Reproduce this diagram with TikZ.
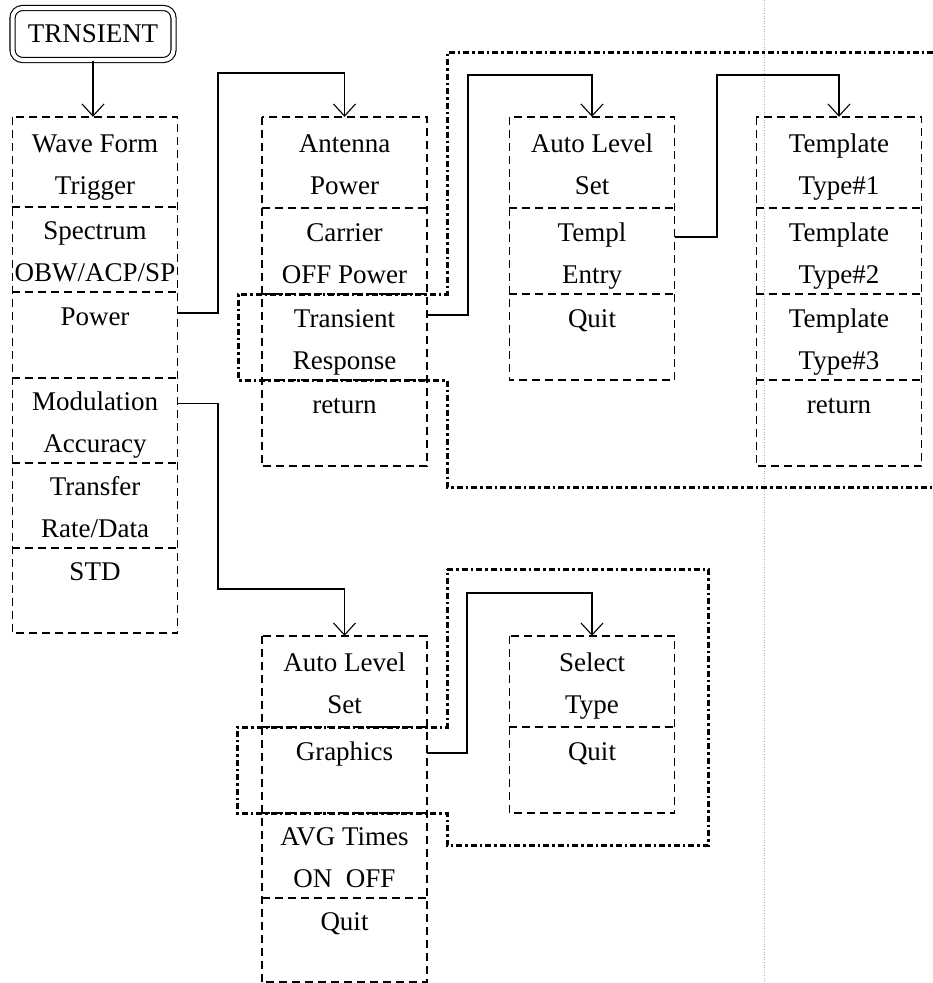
\documentclass[tikz,border=0pt]{standalone}
\usepackage{fontspec}
\setmainfont{Liberation Serif}
\usetikzlibrary{arrows.meta}
\newcommand{\mstrut}{\rule[-10pt]{0pt}{42pt}}

\begin{document}
\begin{tikzpicture}[x=1pt,y=-1pt,font=\fontsize{27pt}{42pt}\selectfont,every node/.style={align=center},
  rootbox/.style={draw,double,double distance=4pt,line width=1.1pt,rounded corners=10pt,minimum width=161pt,minimum height=52pt,inner sep=0pt},
  item/.style={minimum width=165pt,inner sep=0pt},
  menubox/.style={line width=1.5pt,dash pattern=on 8pt off 5pt},
  link/.style={line width=1.5pt,-{Straight Barb[length=12pt,width=22pt,line width=1.1pt]}},
  subframe/.style={line width=3pt,dash pattern=on 6pt off 3pt on 2.5pt off 3pt}]
  \useasboundingbox (0,0) rectangle (933,983);
  \draw[black!30,dotted,line width=0.6pt] (764,0) -- (764,983);
  % main menu
  \node[rootbox] (root) at (93,34) {TRNSIENT};
  \node[item,minimum height=90pt] (wave) at (95,162) {\mstrut Wave Form\\\mstrut Trigger};
  \node[item,minimum height=85pt] (spec) at (95,249.5) {\mstrut Spectrum\\\mstrut OBW/ACP/SP};
  \node[item,minimum height=86pt] (power) at (95,335) {\mstrut Power\\\mstrut};
  \node[item,minimum height=85pt] (modul) at (95,420.5) {\mstrut Modulation\\\mstrut Accuracy};
  \node[item,minimum height=85pt] (transf) at (95,505.5) {\mstrut Transfer\\\mstrut Rate/Data};
  \node[item,minimum height=85pt] (std) at (95,590.5) {\mstrut STD\\\mstrut};
  % power menu
  \node[item,minimum height=91pt] (antenna) at (344.5,162.5) {\mstrut Antenna\\\mstrut Power};
  \node[item,minimum height=86pt] (carrier) at (344.5,251) {\mstrut Carrier\\\mstrut OFF Power};
  \node[item,minimum height=86pt] (transient) at (344.5,337) {\mstrut Transient\\\mstrut Response};
  \node[item,minimum height=86pt] (retB) at (344.5,423) {\mstrut return\\\mstrut};
  % transient menu
  \node[item,minimum height=91pt] (autoA) at (592,162.5) {\mstrut Auto Level\\\mstrut Set};
  \node[item,minimum height=86pt] (templ) at (592,251) {\mstrut Templ\\\mstrut Entry};
  \node[item,minimum height=86pt] (quitC) at (592,337) {\mstrut Quit\\\mstrut};
  % template menu
  \node[item,minimum height=91pt] (tmpl1) at (839,162.5) {\mstrut Template\\\mstrut Type\#1};
  \node[item,minimum height=86pt] (tmpl2) at (839,251) {\mstrut Template\\\mstrut Type\#2};
  \node[item,minimum height=86pt] (tmpl3) at (839,337) {\mstrut Template\\\mstrut Type\#3};
  \node[item,minimum height=86pt] (retD) at (839,423) {\mstrut return\\\mstrut};
  % modulation menu
  \node[item,minimum height=91pt] (autoB) at (344.5,681.5) {\mstrut Auto Level\\\mstrut Set};
  \node[item,minimum height=86pt] (graph) at (344.5,770) {\mstrut Graphics\\\mstrut};
  \node[item,minimum height=85pt] (avg) at (344.5,855.5) {\mstrut AVG Times\\\mstrut ON~ OFF};
  \node[item,minimum height=84pt] (quitE) at (344.5,940) {\mstrut Quit\\\mstrut};
  % graphics menu
  \node[item,minimum height=91pt] (select) at (592,681.5) {\mstrut Select\\\mstrut Type};
  \node[item,minimum height=86pt] (quitF) at (592,770) {\mstrut Quit\\\mstrut};
  % dashed menu boxes
  \foreach \a/\b in {wave/std,antenna/retB,autoA/quitC,tmpl1/retD,autoB/quitE,select/quitF}
    \draw[menubox] (\a.north west) rectangle (\b.south east);
  \foreach \n in {wave,spec,power,modul,transf,antenna,carrier,transient,autoA,templ,tmpl1,tmpl2,tmpl3,autoB,graph,avg,select}
    \draw[menubox] (\n.south west) -- (\n.south east);
  % sub menu frames
  \draw[subframe] (933,52) -- (447,52) -- (447,294) -- (238,294) -- (238,380) -- (447,380) -- (447,487) -- (933,487);
  \draw[subframe] (447,569) -- (708,569) -- (708,845) -- (447,845) -- (447,813) -- (237,813) -- (237,727) -- (447,727) -- cycle;
  % connectors
  \draw[link] (root) -- (root |- wave.north);
  \draw[link] ([yshift=22pt]power.east) -| (218,73) -| (antenna.north);
  \draw[link] ([yshift=17pt]modul.east) -| (218,589) -| (autoB.north);
  \draw[link] ([yshift=22pt]transient.east) -| (468,75) -| (autoA.north);
  \draw[link] ([yshift=14pt]templ.east) -| (717,75) -| (tmpl1.north);
  \draw[link] ([yshift=17pt]graph.east) -| (467,593) -| (select.north);
\end{tikzpicture}
\end{document}
